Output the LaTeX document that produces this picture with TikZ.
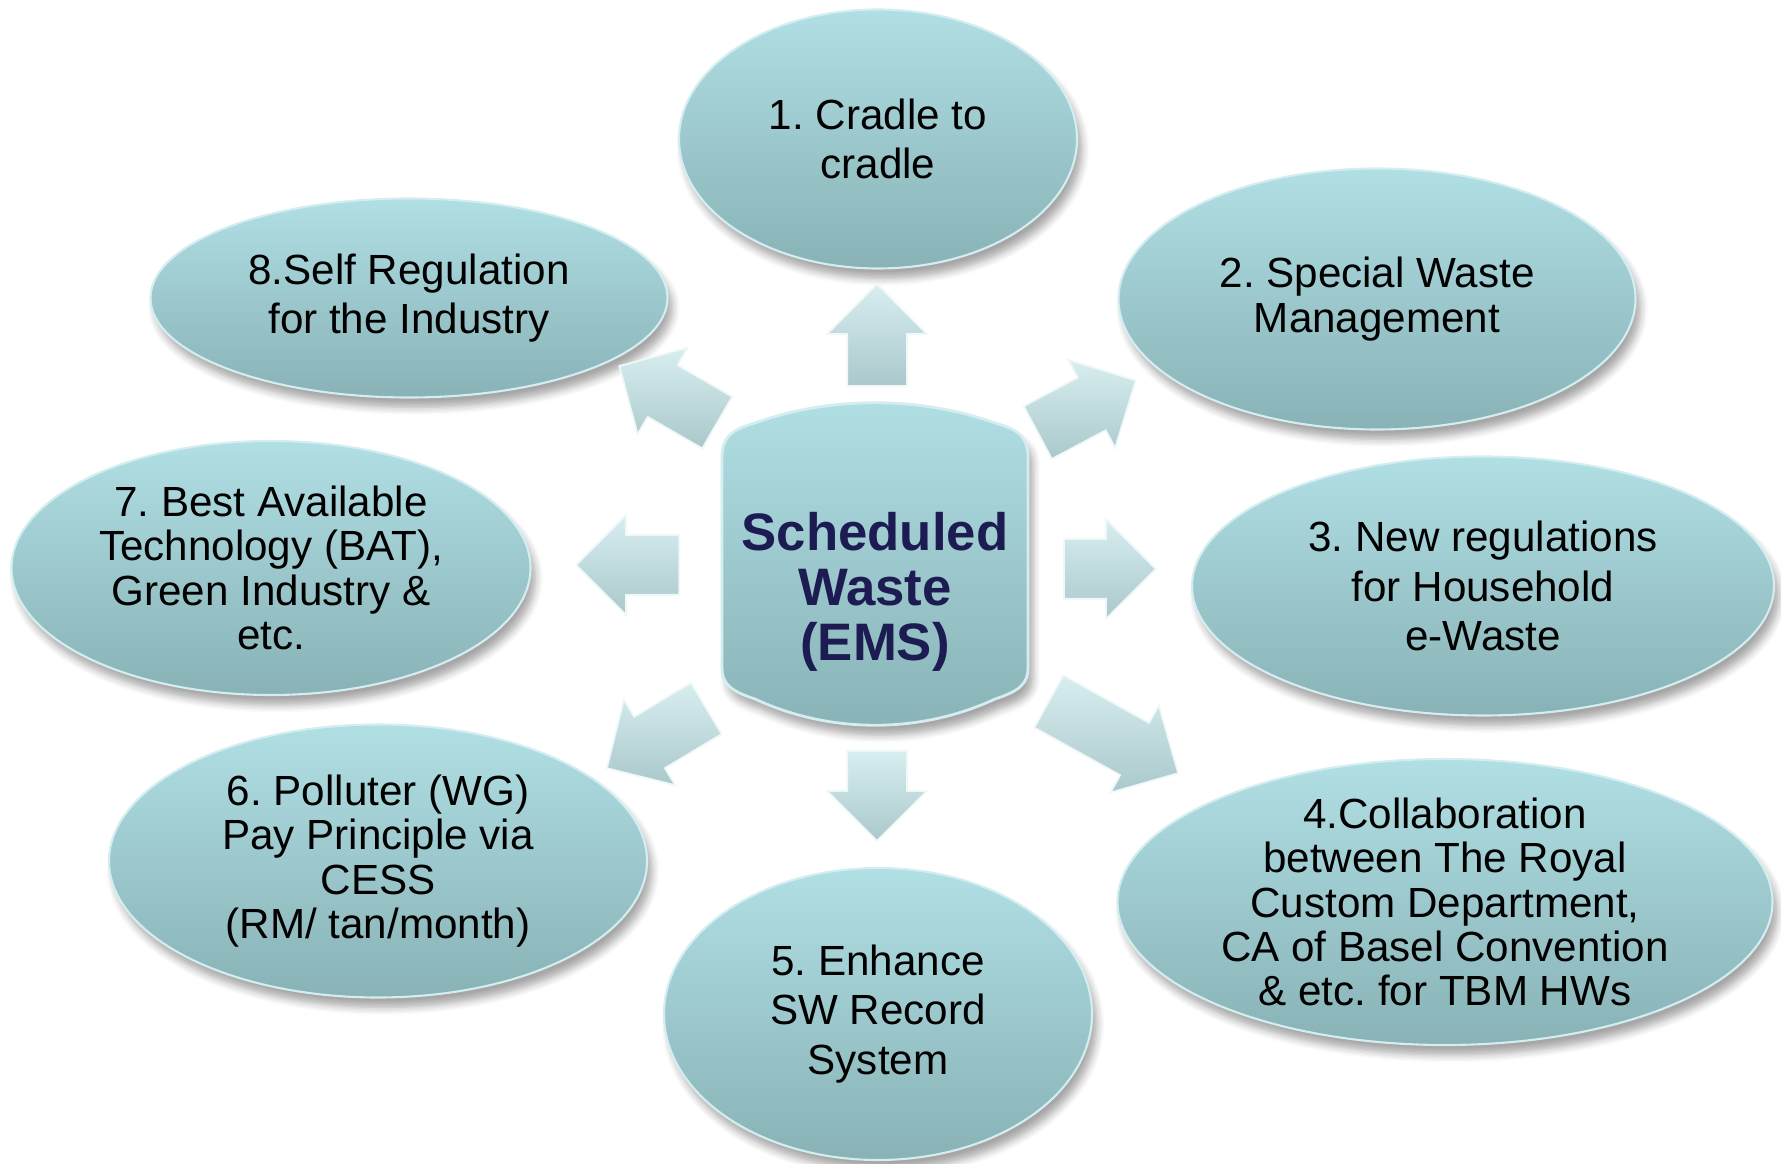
\documentclass[tikz,border=0pt]{standalone}
\usepackage{fontspec}
\setmainfont{Liberation Sans}
\usetikzlibrary{shapes.geometric,shapes.arrows,shadows.blur}
\definecolor{bubtop}{RGB}{176,223,228}
\definecolor{bubbot}{RGB}{136,178,182}
\definecolor{arrtop}{RGB}{216,238,240}
\definecolor{arrbot}{RGB}{170,200,203}
\definecolor{emstext}{RGB}{28,27,82}
\frenchspacing
\begin{document}
\begin{tikzpicture}[scale=1,
  bubble/.style={ellipse,top color=bubtop,bottom color=bubbot,draw=bubtop!55!white,line width=0.6pt,
    blur shadow={shadow xshift=0.5mm,shadow yshift=-1mm,shadow opacity=35,shadow blur steps=6},
    inner sep=0pt,align=center,font=\fontsize{12}{14}\selectfont},
  tight/.style={font=\fontsize{12}{12.6}\selectfont},
  blk arrow/.style={single arrow,anchor=tail,minimum height=#1,inner sep=0pt,inner ysep=0.29cm,
    single arrow head extend=0.2cm,top color=arrtop,bottom color=arrbot,draw=arrtop!40!white,line width=0.5pt},
  ems body/.style={top color=bubtop,bottom color=bubbot,draw=bubtop!55!white,line width=0.8pt,
    blur shadow={shadow xshift=0.5mm,shadow yshift=-1mm,shadow opacity=35,shadow blur steps=6}}]
  \useasboundingbox (0,0) rectangle (17.81,11.63);
  % centre
  \path[ems body] (7.22,4.95) -- (7.22,7.05) .. controls (7.22,7.25) and (7.30,7.33) .. (7.55,7.40)
    .. controls (8.30,7.67) and (9.20,7.67) .. (9.95,7.40) .. controls (10.20,7.33) and (10.28,7.25) .. (10.28,7.05)
    -- (10.28,4.95) .. controls (10.28,4.80) and (10.20,4.72) .. (9.95,4.64)
    .. controls (9.20,4.29) and (8.30,4.29) .. (7.55,4.64) .. controls (7.30,4.72) and (7.22,4.80) .. (7.22,4.95) -- cycle;
  \node[align=center,text=emstext,font=\fontsize{15}{15.7}\selectfont\bfseries] (ems) at (8.75,5.71)
    {Scheduled\\Waste\\(EMS)};
  % bubbles
  \node[bubble,minimum width=3.98cm,minimum height=2.59cm] (n1) at (8.78,10.24) {1. Cradle to\\cradle};
  \node[bubble,tight,minimum width=5.17cm,minimum height=2.61cm] (n2) at (13.77,8.64) {2. Special Waste\\Management};
  \node[bubble,minimum width=5.82cm,minimum height=2.59cm] (n3) at (14.83,5.77) {3. New regulations\\for Household\\e-Waste};
  \node[bubble,tight,inner ysep=-10pt,minimum width=6.55cm,minimum height=2.86cm] (n4) at (14.45,2.61)
    {4.Collaboration\\between The Royal\\Custom Department,\\CA of Basel Convention\\\& etc. for TBM HWs};
  \node[bubble,minimum width=4.28cm,minimum height=2.92cm] (n5) at (8.78,1.49) {5. Enhance\\SW Record\\System};
  \node[bubble,tight,minimum width=5.38cm,minimum height=2.73cm] (n6) at (3.78,3.02)
    {6. Polluter (WG)\\Pay Principle via\\CESS\\(RM/ tan/month)};
  \node[bubble,tight,minimum width=5.19cm,minimum height=2.54cm] (n7) at (2.71,5.95)
    {7. Best Available\\Technology (BAT),\\Green Industry \&\\etc.};
  \node[bubble,minimum width=5.17cm,minimum height=1.99cm] (n8) at (4.09,8.65) {8.Self Regulation\\for the Industry};
  % arrows
  \node[blk arrow=1.02cm,rotate=90] (a1) at (8.77,7.76) {};
  \node[blk arrow=1.11cm,rotate=28] (a2) at (10.37,7.30) {};
  \node[blk arrow=0.92cm] (a3) at (10.63,5.94) {};
  \node[blk arrow=1.48cm,rotate=-29] (a4) at (10.48,4.62) {};
  \node[blk arrow=0.90cm,rotate=-90] (a5) at (8.77,4.13) {};
  \node[blk arrow=1.16cm,rotate=-149] (a6) at (7.07,4.55) {};
  \node[blk arrow=1.03cm,rotate=180] (a7) at (6.80,5.98) {};
  \node[blk arrow=1.13cm,rotate=150] (a8) at (7.18,7.40) {};
\end{tikzpicture}
\end{document}
